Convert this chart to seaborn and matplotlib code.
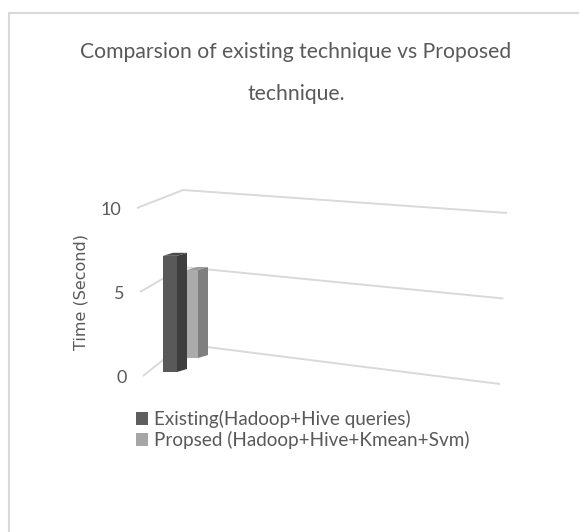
import numpy as np
import pandas as pd
import matplotlib
matplotlib.use("Agg")
import matplotlib.pyplot as plt
from matplotlib.patches import Patch, Polygon
import seaborn as sns

# ---- data -------------------------------------------------------------
series = ["Existing(Hadoop+Hive queries)", "Propsed (Hadoop+Hive+Kmean+Svm)"]
times = [7.0, 5.5]
value_ticks = [0, 5, 10]
tick_labels = ["0", "5", "10"]
title = "Comparsion of existing technique vs Proposed\ntechnique."
ylabel = "Time (Second)"

# ---- style ------------------------------------------------------------
sns.set_theme(style="white")
plt.rcParams["font.family"] = ["Lato", "DejaVu Sans"]

TEXT = "#595959"
GRID = "#d9d9d9"
front_col = ["#595959", "#ababab"]
side_col = ["#3e3e3e", "#7f7f7f"]
top_col = ["#4a4a4a", "#9a9a9a"]
legend_col = ["#5e5e5e", "#a6a6a6"]

W, H = 579, 532
fig = plt.figure(figsize=(W / 100, H / 100), dpi=100)
fig.patch.set_facecolor("white")

# drawing canvas in pixel units, y growing downward
canvas = fig.add_axes([0, 0, 1, 1])
canvas.set_xlim(0, W)
canvas.set_ylim(H, 0)
canvas.axis("off")

# outer chart frame
canvas.plot([9, 9, W], [H, 13, 13], color=GRID, lw=1.5, solid_joinstyle="miter")

# ---- 3-D box: wall corners at value 0 and at vmax ----------------------
vmax = 10
box = {
    "front_left": ((143, 376), (137, 208)),
    "back_left": ((183, 344), (183, 190)),
    "back_right": ((500, 384), (507, 213)),
}


def wall_point(corner, v):
    (x0, y0), (x1, y1) = box[corner]
    t = v / vmax
    return x0 + (x1 - x0) * t, y0 + (y1 - y0) * t


for v, lab in zip(value_ticks, tick_labels):
    pts = [wall_point(c, v) for c in ("front_left", "back_left", "back_right")]
    xs, ys = zip(*pts)
    canvas.plot(xs, ys, color=GRID, lw=1.4, solid_capstyle="butt")
    fx, fy = pts[0]
    canvas.text(fx - 16, fy + 2, lab, ha="right", va="center",
                fontsize=13, color=TEXT)

canvas.text(81, 292, ylabel, rotation=90, ha="center", va="center",
            fontsize=11.5, color=TEXT, family=["DejaVu Sans"])

canvas.text(296, 73, title, ha="center", va="center", multialignment="center",
            fontsize=15.2, color=TEXT, linespacing=2.4)

# ---- bars: one depth row per series -----------------------------------
df = pd.DataFrame({"Series": series, "Time": times})
# (front-face left px, right px, floor px, px per unit) for each depth row
rows = [(163, 177, 372, 16.6), (187, 198, 358, 16.0)]
depth_px = (10, 3)

for i in [1, 0]:  # back row first so the front row overlaps it
    x0, x1, floor, ppu = rows[i]
    ax = fig.add_axes([x0 / W, (H - floor) / H, (x1 - x0) / W, vmax * ppu / H])
    sns.barplot(data=df.iloc[[i]], x="Series", y="Time", ax=ax,
                color=front_col[i], saturation=1, width=1.0, linewidth=0)
    ax.set_xlim(-0.5, 0.5)
    ax.set_ylim(0, vmax)
    ax.axis("off")
    ax.patch.set_alpha(0)
    bar = ax.patches[0]
    bx, bw, bh = bar.get_x(), bar.get_width(), bar.get_height()
    ddx = depth_px[0] / (x1 - x0)
    ddy = depth_px[1] / ppu
    side_poly = [(bx + bw, 0), (bx + bw + ddx, ddy),
                 (bx + bw + ddx, bh + ddy), (bx + bw, bh)]
    top_poly = [(bx, bh), (bx + bw, bh),
                (bx + bw + ddx, bh + ddy), (bx + ddx, bh + ddy)]
    ax.add_patch(Polygon(side_poly, closed=True, fc=side_col[i], ec="none",
                         clip_on=False))
    ax.add_patch(Polygon(top_poly, closed=True, fc=top_col[i], ec="none",
                         clip_on=False))

# ---- legend -----------------------------------------------------------
handles = [Patch(facecolor=c, edgecolor="none") for c in legend_col]
leg = canvas.legend(handles, series, loc="upper left",
                    bbox_to_anchor=(136 / W, 1 - 410 / H),
                    bbox_transform=fig.transFigure, frameon=False,
                    fontsize=13.6, handlelength=0.65, handleheight=0.65,
                    handletextpad=0.3, labelspacing=0.15,
                    borderpad=0, borderaxespad=0)
for t in leg.get_texts():
    t.set_color(TEXT)

fig.savefig("out.png", dpi=100, facecolor="white")
